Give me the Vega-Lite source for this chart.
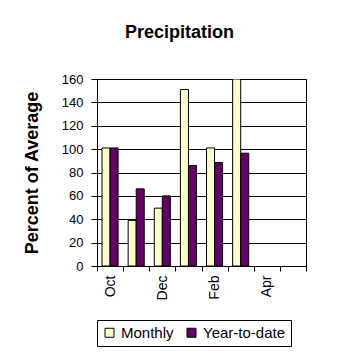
{
  "$schema": "https://vega.github.io/schema/vega-lite/v6.json",
  "autosize": "none",
  "width": 209,
  "height": 187,
  "padding": {"left": 97, "top": 79, "right": 52, "bottom": 92},
  "background": "white",
  "title": {"text": "Precipitation", "font": "Liberation Sans", "fontSize": 18, "fontWeight": "bold", "color": "black", "offset": 31, "dx": -22},
  "data": {"values": [
    {"month": "Oct", "series": "Monthly", "value": 101},
    {"month": "Oct", "series": "Year-to-date", "value": 101},
    {"month": "Nov", "series": "Monthly", "value": 39},
    {"month": "Nov", "series": "Year-to-date", "value": 66},
    {"month": "Dec", "series": "Monthly", "value": 49.5},
    {"month": "Dec", "series": "Year-to-date", "value": 60},
    {"month": "Jan", "series": "Monthly", "value": 151},
    {"month": "Jan", "series": "Year-to-date", "value": 86},
    {"month": "Feb", "series": "Monthly", "value": 101},
    {"month": "Feb", "series": "Year-to-date", "value": 88.5},
    {"month": "Mar", "series": "Monthly", "value": 160},
    {"month": "Mar", "series": "Year-to-date", "value": 96.5},
    {"month": "Apr", "series": "Monthly", "value": null},
    {"month": "Apr", "series": "Year-to-date", "value": null},
    {"month": "May", "series": "Monthly", "value": null},
    {"month": "May", "series": "Year-to-date", "value": null}
  ]},
  "mark": {"type": "bar", "stroke": "black", "strokeWidth": 1, "clip": true},
  "encoding": {
    "x": {
      "field": "month", "type": "nominal", "sort": null,
      "scale": {"domain": ["Oct", "Nov", "Dec", "Jan", "Feb", "Mar", "Apr", "May"], "paddingInner": 0, "paddingOuter": 0},
      "axis": {
        "title": null, "labelAngle": -90, "labelAlign": "right", "labelBaseline": "middle",
        "labelFont": "Liberation Sans", "labelFontSize": 14, "labelColor": "black",
        "labelExpr": "indexof(['Oct','Dec','Feb','Apr'], datum.value) >= 0 ? datum.value : ''",
        "tickBand": "extent", "tickColor": "black", "tickSize": 5, "domainColor": "black",
        "labelPadding": 4, "grid": false
      }
    },
    "xOffset": {"field": "series", "type": "nominal", "scale": {"paddingInner": 0, "paddingOuter": 0.625}},
    "y": {
      "field": "value", "type": "quantitative",
      "scale": {"domain": [0, 160], "nice": false},
      "axis": {
        "title": "Percent of Average", "titleFont": "Liberation Sans", "titleFontSize": 18, "titleFontWeight": "bold", "titleColor": "black", "titlePadding": 20,
        "values": [0, 20, 40, 60, 80, 100, 120, 140, 160],
        "labelFont": "Liberation Sans", "labelFontSize": 13, "labelColor": "black",
        "tickColor": "black", "tickSize": 6, "domainColor": "black",
        "grid": true, "gridColor": "black", "gridOpacity": 1, "labelPadding": 8
      }
    },
    "fill": {
      "field": "series", "type": "nominal",
      "scale": {"domain": ["Monthly", "Year-to-date"], "range": ["#FFFFCC", "#660066"]},
      "legend": {
        "title": null, "orient": "bottom", "direction": "horizontal",
        "symbolType": "square", "symbolSize": 81, "symbolStrokeColor": "black", "symbolStrokeWidth": 1,
        "labelFont": "Liberation Sans", "labelFontSize": 15, "labelColor": "black",
        "strokeColor": "black", "padding": 5, "offset": 20, "columnPadding": 10, "labelOffset": 4
      }
    }
  },
  "config": {
    "view": {"stroke": "black", "strokeWidth": 1},
    "axis": {"domainWidth": 1, "tickWidth": 1, "gridWidth": 1}
  }
}
